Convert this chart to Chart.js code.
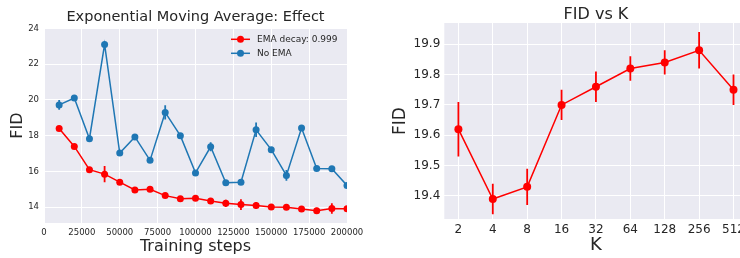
<!DOCTYPE html>
<html>
<head>
<meta charset="utf-8">
<script src="https://cdn.jsdelivr.net/npm/chart.js@4.4.0/dist/chart.umd.min.js"></script>
<style>
  html, body { margin: 0; padding: 0; background: #fff; overflow: hidden; }
  body { width: 740px; height: 258px; position: relative; }
  #ema-chart { position: absolute; left: 0; top: 0; }
  #k-chart { position: absolute; left: 370px; top: 0; }
</style>
</head>
<body>
<canvas id="ema-chart" width="370" height="258"></canvas>
<canvas id="k-chart" width="400" height="258"></canvas>
<script>
// left panel: EMA effect
const steps = [10000, 20000, 30000, 40000, 50000, 60000, 70000, 80000, 90000, 100000,
               110000, 120000, 130000, 140000, 150000, 160000, 170000, 180000, 190000, 200000];
const emaFid = [18.4, 17.4, 16.1, 15.85, 15.4, 14.97, 15.0, 14.65, 14.47, 14.5,
                14.35, 14.22, 14.15, 14.1, 14.02, 14.0, 13.9, 13.8, 13.93, 13.92];
const emaErr = [0.08, 0.08, 0.08, 0.45, 0.08, 0.08, 0.08, 0.08, 0.08, 0.08,
                0.08, 0.2, 0.3, 0.2, 0.08, 0.08, 0.08, 0.17, 0.3, 0.08];
const noEmaFid = [19.72, 20.1, 17.83, 23.1, 17.03, 17.93, 16.62, 19.3, 18.0, 15.92,
                  17.38, 15.37, 15.4, 18.33, 17.22, 15.78, 18.43, 16.17, 16.15, 15.22];
const noEmaErr = [0.27, 0.08, 0.08, 0.1, 0.08, 0.08, 0.08, 0.4, 0.08, 0.08,
                  0.25, 0.08, 0.08, 0.4, 0.08, 0.3, 0.08, 0.08, 0.08, 0.08];
const stepTicks = [0, 25000, 50000, 75000, 100000, 125000, 150000, 175000, 200000];
const fidTicks = [14, 16, 18, 20, 22, 24];

// right panel: FID vs K
const kValues = [2, 4, 8, 16, 32, 64, 128, 256, 512];
const kFid = [19.62, 19.39, 19.43, 19.70, 19.76, 19.82, 19.84, 19.88, 19.75];
const kErr = [0.09, 0.05, 0.06, 0.05, 0.05, 0.04, 0.04, 0.06, 0.05];
const kFidTicks = [19.4, 19.5, 19.6, 19.7, 19.8, 19.9];

Chart.defaults.font.family = 'DejaVu Sans';
Chart.defaults.color = '#262626';

const textColor = '#262626';
const panelBg = '#EAEAF2';
const red = '#ff0000';
const blue = '#1f77b4';

const panelBackground = {
  id: 'panelBackground',
  beforeDraw(chart) {
    const a = chart.chartArea;
    const ctx = chart.ctx;
    ctx.save();
    ctx.fillStyle = panelBg;
    ctx.fillRect(a.left, a.top, a.right - a.left, a.bottom - a.top);
    ctx.restore();
  }
};

// the built-in title only reserves the space; text is centred over the plot area like matplotlib
const plotTitle = {
  id: 'plotTitle',
  afterDraw(chart) {
    const opts = chart.options.plugins.title;
    const block = chart.titleBlock;
    const a = chart.chartArea;
    const size = opts.font.size;
    const ctx = chart.ctx;
    ctx.save();
    ctx.font = size + 'px "DejaVu Sans"';
    ctx.fillStyle = textColor;
    ctx.textAlign = 'center';
    ctx.textBaseline = 'middle';
    ctx.fillText(opts.text, (a.left + a.right) / 2, block.top + opts.padding.top + size * opts.font.lineHeight / 2);
    ctx.restore();
  }
};

// vertical error bars, read from dataset.errors
const errorBars = {
  id: 'errorBars',
  beforeDatasetsDraw(chart) {
    const ctx = chart.ctx;
    const a = chart.chartArea;
    const xs = chart.scales.x;
    const ys = chart.scales.y;
    ctx.save();
    ctx.beginPath();
    ctx.rect(a.left, a.top, a.right - a.left, a.bottom - a.top);
    ctx.clip();
    chart.data.datasets.forEach(ds => {
      if (!ds.errors) return;
      ctx.strokeStyle = ds.borderColor;
      ctx.lineWidth = 1.8;
      ds.data.forEach((p, i) => {
        const x = xs.getPixelForValue(p.x);
        ctx.beginPath();
        ctx.moveTo(x, ys.getPixelForValue(p.y - ds.errors[i]));
        ctx.lineTo(x, ys.getPixelForValue(p.y + ds.errors[i]));
        ctx.stroke();
      });
    });
    ctx.restore();
  }
};

// frameless legend inside the plot, top right
const innerLegend = {
  id: 'innerLegend',
  afterDraw(chart) {
    const ctx = chart.ctx;
    const a = chart.chartArea;
    ctx.save();
    ctx.font = '9px "DejaVu Sans"';
    ctx.textBaseline = 'middle';
    chart.data.datasets.forEach((ds, i) => {
      const y = a.top + 11 + i * 14;
      const x0 = a.right - 116;
      ctx.strokeStyle = ds.borderColor;
      ctx.lineWidth = 1.5;
      ctx.beginPath();
      ctx.moveTo(x0, y);
      ctx.lineTo(x0 + 19, y);
      ctx.stroke();
      ctx.fillStyle = ds.borderColor;
      ctx.beginPath();
      ctx.arc(x0 + 9.5, y, 3.5, 0, Math.PI * 2);
      ctx.fill();
      ctx.fillStyle = textColor;
      ctx.fillText(ds.label, x0 + 26, y);
    });
    ctx.restore();
  }
};

function series(xs, ys) {
  return xs.map((x, i) => ({ x: x, y: ys[i] }));
}

new Chart(document.getElementById('ema-chart'), {
  type: 'line',
  data: {
    datasets: [{
      label: 'EMA decay: 0.999',
      data: series(steps, emaFid),
      errors: emaErr,
      borderColor: red,
      backgroundColor: red,
      borderWidth: 1.5,
      pointRadius: 3.5,
      pointBorderWidth: 0,
      clip: 0
    }, {
      label: 'No EMA',
      data: series(steps, noEmaFid),
      errors: noEmaErr,
      borderColor: blue,
      backgroundColor: blue,
      borderWidth: 1.5,
      pointRadius: 3.5,
      pointBorderWidth: 0,
      clip: 0
    }]
  },
  options: {
    responsive: false,
    animation: false,
    layout: { padding: { left: 0, right: 23, top: 0, bottom: 0 } },
    plugins: {
      legend: { display: false },
      tooltip: { enabled: false },
      title: {
        display: true,
        text: 'Exponential Moving Average: Effect',
        font: { size: 14.5, weight: 'normal', lineHeight: 1.2 },
        color: 'rgba(0,0,0,0)',
        padding: { top: 8.3, bottom: 2.6 }
      }
    },
    scales: {
      x: {
        type: 'linear',
        min: 0,
        max: 200000,
        afterBuildTicks: s => { s.ticks = stepTicks.map(v => ({ value: v })); },
        afterFit: s => { s.height = 35; },
        grid: { color: '#ffffff', lineWidth: 1, drawTicks: false },
        border: { display: false },
        ticks: { font: { size: 8.5 }, color: textColor, padding: 5, maxRotation: 0, autoSkip: false,
                 callback: v => String(v) },
        title: { display: true, text: 'Training steps', font: { size: 16 }, color: textColor,
                 padding: { top: 0, bottom: 1.7 } }
      },
      y: {
        min: 13.12,
        max: 24,
        afterBuildTicks: s => { s.ticks = fidTicks.map(v => ({ value: v })); },
        afterFit: s => { s.width = 44; },
        grid: { color: '#ffffff', lineWidth: 1, drawTicks: false },
        border: { display: false },
        ticks: { font: { size: 8.5 }, color: textColor, padding: 5 },
        title: { display: true, text: 'FID', font: { size: 16 }, color: textColor,
                 padding: { top: 8.7, bottom: 0 } }
      }
    }
  },
  plugins: [panelBackground, errorBars, innerLegend, plotTitle]
});

new Chart(document.getElementById('k-chart'), {
  type: 'line',
  data: {
    datasets: [{
      label: 'FID',
      data: series(kValues, kFid),
      errors: kErr,
      borderColor: red,
      backgroundColor: red,
      borderWidth: 1.5,
      pointRadius: 4,
      pointBorderWidth: 0,
      clip: 0
    }]
  },
  options: {
    responsive: false,
    animation: false,
    layout: { padding: { left: 0, right: 22.4, top: 0, bottom: 0 } },
    plugins: {
      legend: { display: false },
      tooltip: { enabled: false },
      title: {
        display: true,
        text: 'FID vs K',
        font: { size: 16, weight: 'normal', lineHeight: 1 },
        color: 'rgba(0,0,0,0)',
        padding: { top: 6.5, bottom: 0.5 }
      }
    },
    scales: {
      x: {
        type: 'logarithmic',
        min: Math.pow(2, 0.59),
        max: Math.pow(2, 9.41),
        afterBuildTicks: s => { s.ticks = kValues.map(v => ({ value: v })); },
        afterFit: s => { s.height = 39; },
        grid: { color: '#ffffff', lineWidth: 1, drawTicks: false },
        border: { display: false },
        ticks: { font: { size: 12 }, color: textColor, padding: 4, maxRotation: 0, autoSkip: false,
                 callback: v => String(v) },
        title: { display: true, text: 'K', font: { size: 18 }, color: textColor,
                 padding: { top: 0, bottom: 1.4 } }
      },
      y: {
        min: 19.324,
        max: 19.97,
        afterBuildTicks: s => { s.ticks = kFidTicks.map(v => ({ value: v })); },
        afterFit: s => { s.width = 74.3; },
        grid: { color: '#ffffff', lineWidth: 1, drawTicks: false },
        border: { display: false },
        ticks: { font: { size: 12 }, color: textColor, padding: 4, callback: v => v.toFixed(1) },
        title: { display: true, text: 'FID', font: { size: 17 }, color: textColor,
                 padding: { top: 20.5, bottom: 0 } }
      }
    }
  },
  plugins: [panelBackground, errorBars, plotTitle]
});
</script>
</body>
</html>
